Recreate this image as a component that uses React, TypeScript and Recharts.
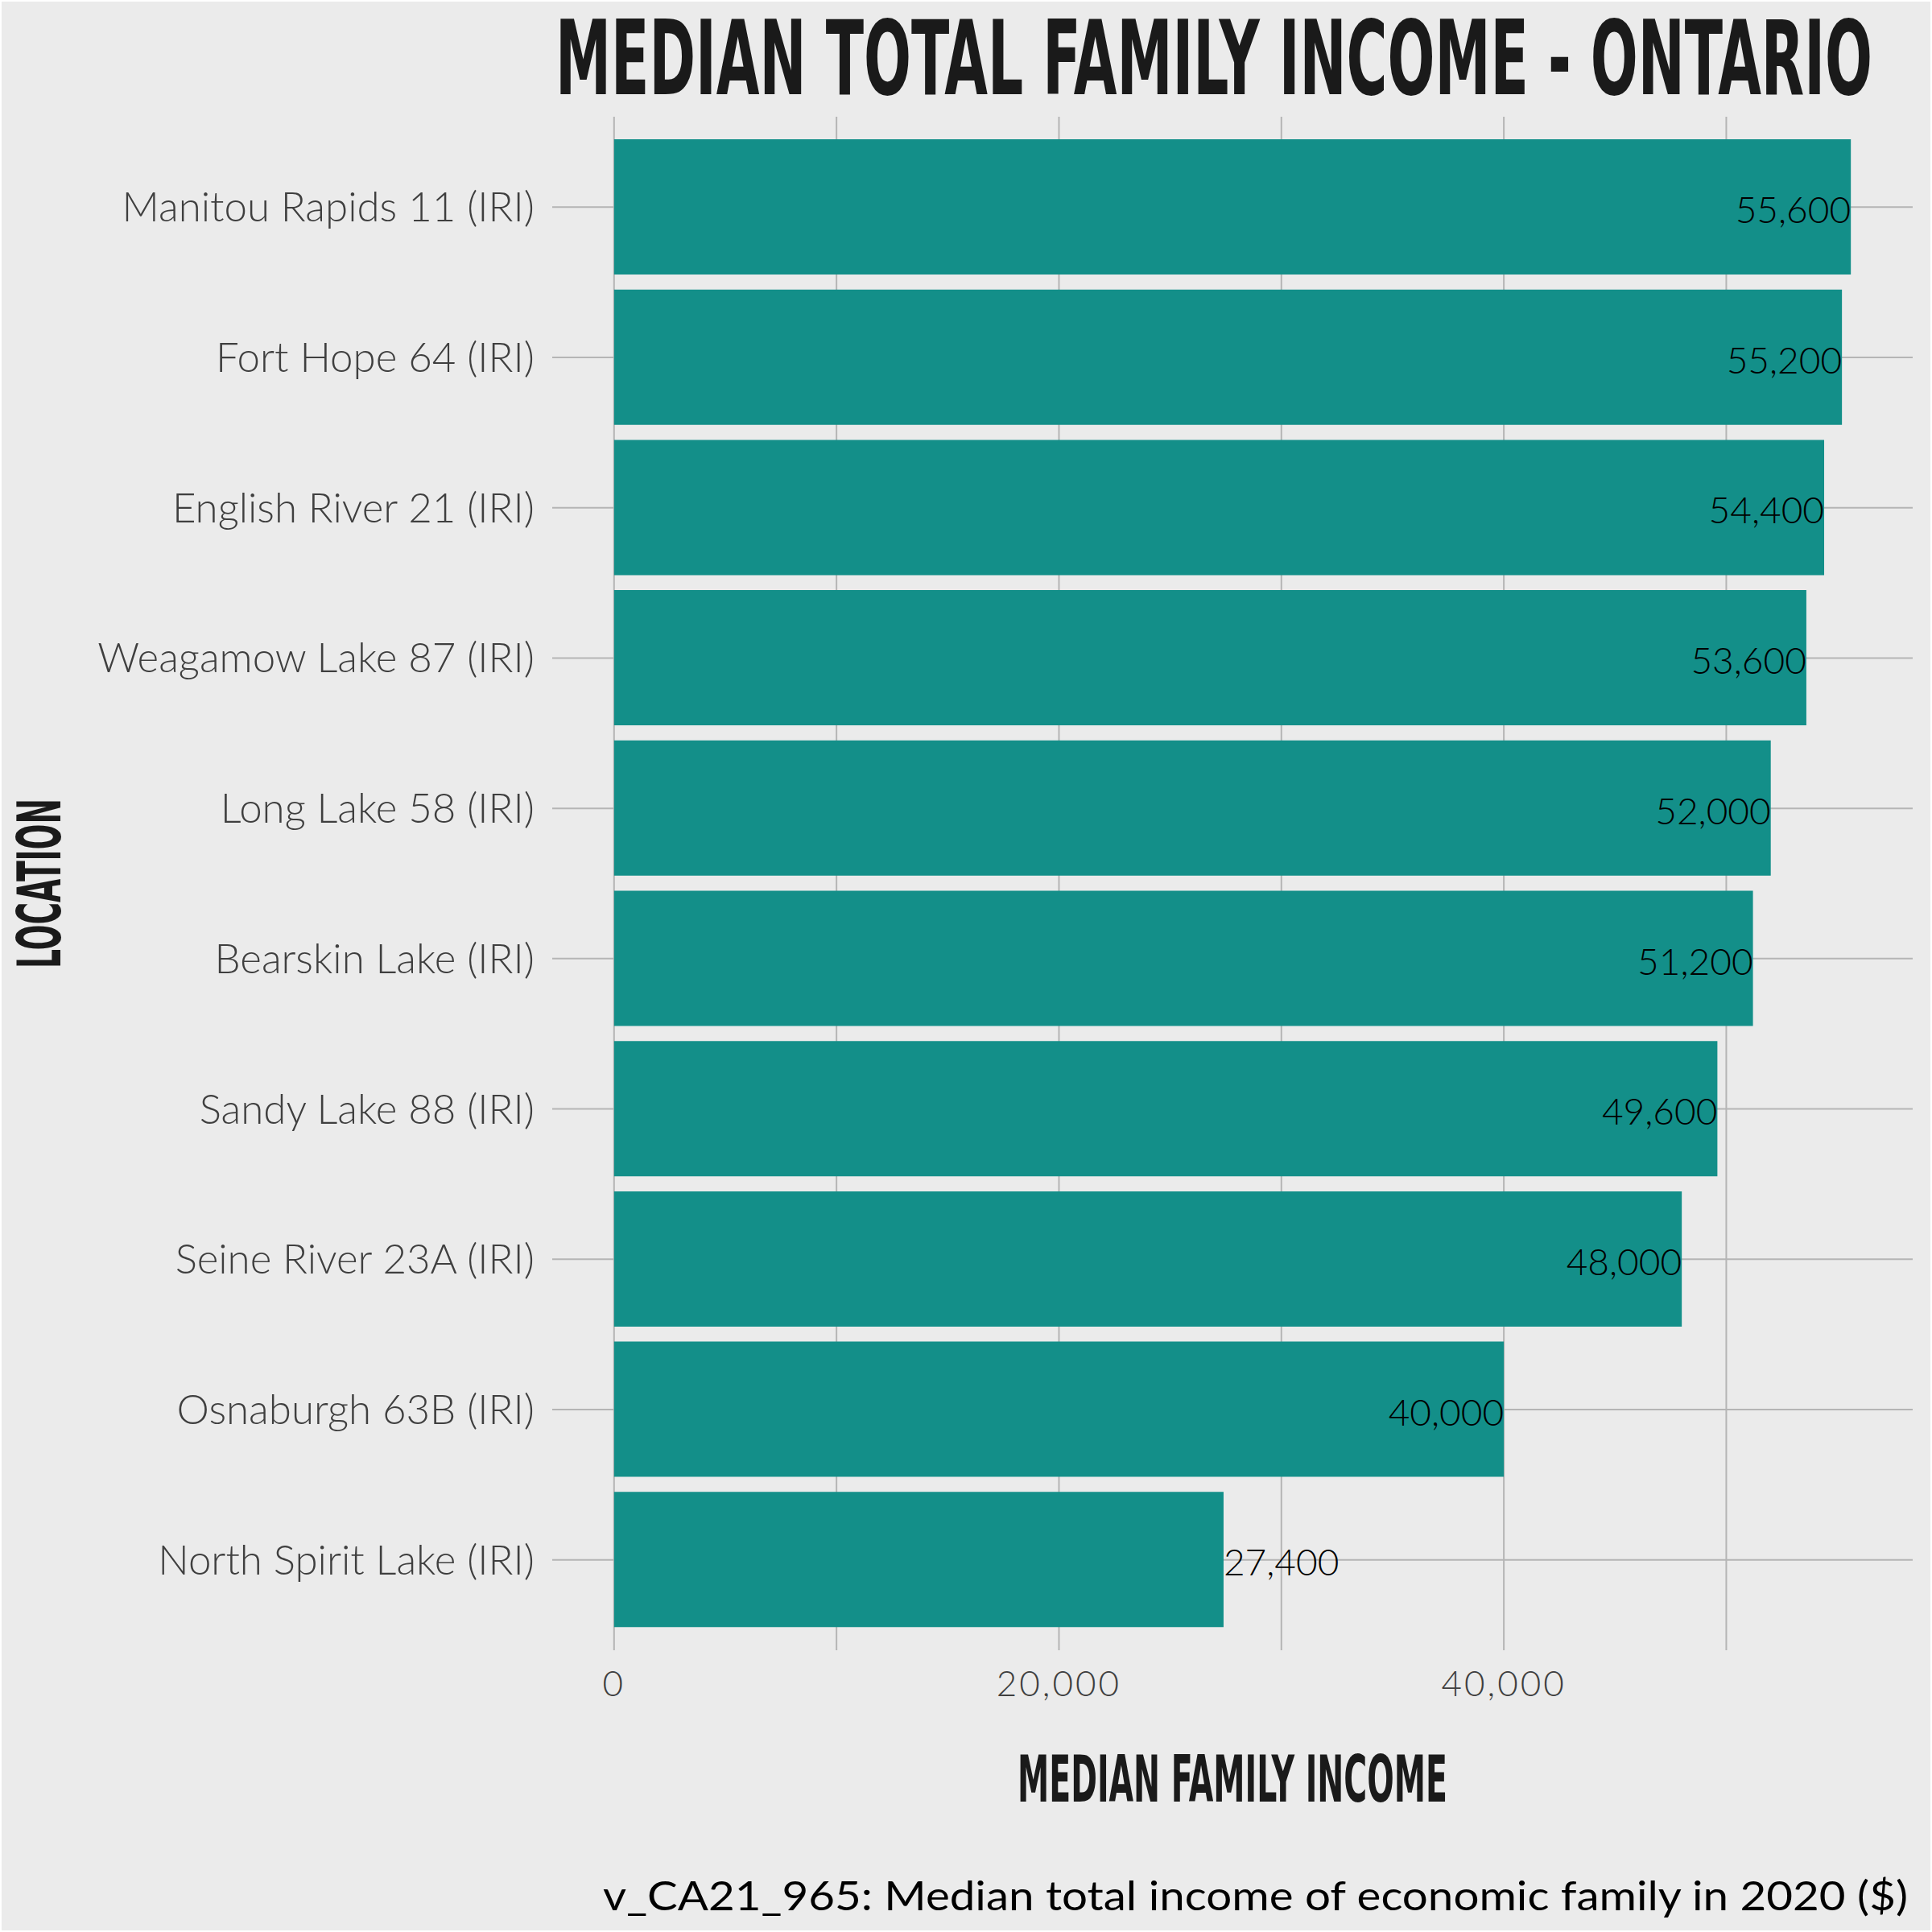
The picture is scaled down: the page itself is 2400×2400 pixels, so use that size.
import React from 'react';
import { BarChart, Bar, XAxis, YAxis, CartesianGrid, LabelList } from 'recharts';

const locations = [
  'Manitou Rapids 11 (IRI)',
  'Fort Hope 64 (IRI)',
  'English River 21 (IRI)',
  'Weagamow Lake 87 (IRI)',
  'Long Lake 58 (IRI)',
  'Bearskin Lake (IRI)',
  'Sandy Lake 88 (IRI)',
  'Seine River 23A (IRI)',
  'Osnaburgh 63B (IRI)',
  'North Spirit Lake (IRI)',
];
const incomes = [55600, 55200, 54400, 53600, 52000, 51200, 49600, 48000, 40000, 27400];
const gridTicks = [0, 10000, 20000, 30000, 40000, 50000];
const labelTicks = [0, 20000, 40000];

const data = locations.map((name, i) => ({ name, value: incomes[i] }));
const maxVal = Math.max(...incomes);
const fmt = (v: number) => v.toLocaleString('en-US');

const BG = '#ebebeb';
const BAR = '#138f89';
const GRID = '#b5b5b5';

const YTick = (props: any) => {
  const { x, y, payload } = props;
  return (
    <text x={x} y={y} dy={18} textAnchor="end" fill="#3f3f3f"
      fontFamily="Lato" fontWeight={300} fontSize={51}>
      {payload.value}
    </text>
  );
};

const XTick = (props: any) => {
  const { x, y, payload } = props;
  if (!labelTicks.includes(payload.value)) return null;
  return (
    <text x={x} y={y} dy={57} textAnchor="middle" fill="#3f3f3f"
      fontFamily="Lato" fontWeight={300} fontSize={44} letterSpacing={3}>
      {fmt(payload.value)}
    </text>
  );
};

const ValueLabel = (props: any) => {
  const { x, y, width, height, value } = props;
  const inside = value > 30000;
  return (
    <text x={x + width} y={y + height / 2} dy={20} textAnchor={inside ? 'end' : 'start'}
      fill="#000" fontFamily="Lato" fontWeight={300} fontSize={46}>
      {fmt(value)}
    </text>
  );
};

export default function App() {
  return (
    <div style={{ position: 'absolute', left: 0, top: 0, width: 2400, height: 2400, background: BG, border: '2px solid #fff', boxSizing: 'border-box' }}>
      <div style={{ position: 'absolute', left: -2, top: -2 }}>
        <BarChart width={2400} height={2400} data={data} layout="vertical"
          margin={{ top: 145, right: 24, bottom: 290, left: 0 }}>
          <CartesianGrid stroke={GRID} strokeWidth={2} syncWithTicks />
          <XAxis type="number" domain={[-0.05 * maxVal, 1.05 * maxVal]} ticks={gridTicks}
            allowDataOverflow axisLine={false} tickLine={false} tickSize={0} tickMargin={0}
            height={60} tick={<XTick />} interval={0} />
          <YAxis type="category" dataKey="name" width={686} axisLine={false} tickLine={false}
            tickSize={0} tickMargin={22} padding={{ top: 19, bottom: 19 }} tick={<YTick />} interval={0} />
          <Bar dataKey="value" fill={BAR} barSize={168} isAnimationActive={false}>
            <LabelList dataKey="value" content={<ValueLabel />} />
          </Bar>
        </BarChart>
      </div>
      <svg width={2400} height={2400} style={{ position: 'absolute', left: -2, top: -2, pointerEvents: 'none' }}>
        <text x={690} y={117} fontFamily="'DejaVu Sans Condensed', 'DejaVu Sans'" fontWeight="bold"
          fontSize={129} fill="#1a1a1a" textLength={1636} lengthAdjust="spacingAndGlyphs">
          MEDIAN TOTAL FAMILY INCOME - ONTARIO
        </text>
        <text x={1264} y={2238} fontFamily="'DejaVu Sans Condensed', 'DejaVu Sans'" fontWeight="bold"
          fontSize={80} fill="#1a1a1a" textLength={534} lengthAdjust="spacingAndGlyphs">
          MEDIAN FAMILY INCOME
        </text>
        <g transform="translate(75,1203) rotate(-90)">
          <text x={0} y={0} fontFamily="'DejaVu Sans Condensed', 'DejaVu Sans'" fontWeight="bold"
            fontSize={74} fill="#1a1a1a" textLength={211} lengthAdjust="spacingAndGlyphs">
            LOCATION
          </text>
        </g>
        <text x={749} y={2373} fontFamily="Lato" fontSize={50} fill="#000"
          textLength={1621} lengthAdjust="spacingAndGlyphs">
          v_CA21_965: Median total income of economic family in 2020 ($)
        </text>
      </svg>
    </div>
  );
}
